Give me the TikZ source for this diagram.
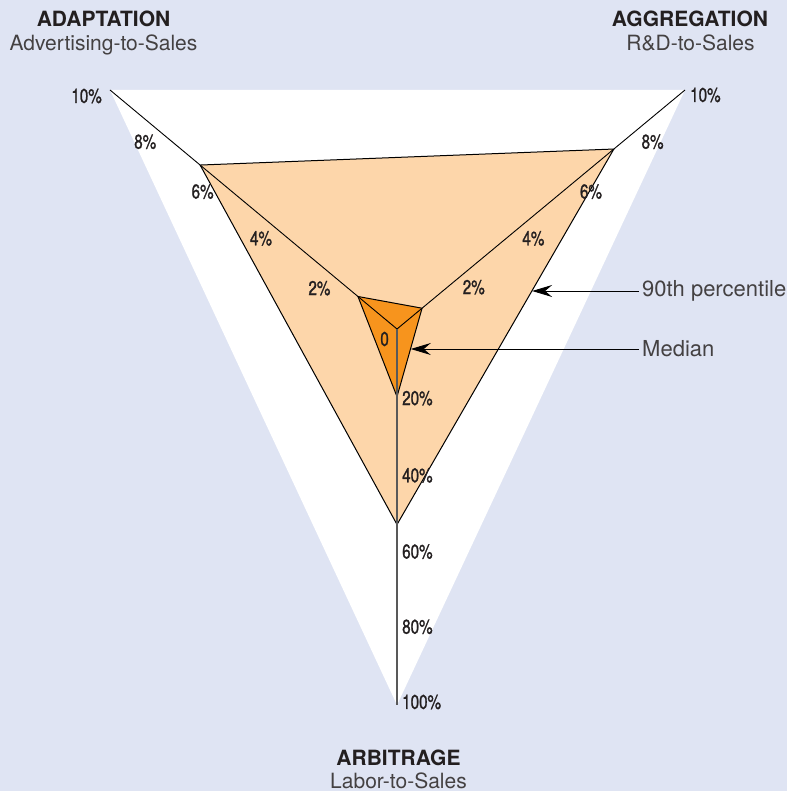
\documentclass[tikz,border=0pt]{standalone}
\usepackage{fontspec}
\setmainfont{TeX Gyre Heros}
\newfontfamily\narrowfont[FakeStretch=0.76, FakeBold=1.2]{TeX Gyre Heros}
\usetikzlibrary{arrows.meta}
\usetikzlibrary{calc}

\definecolor{bgblue}{HTML}{DFE4F3}
\definecolor{paleorange}{HTML}{FDD6AA}
\definecolor{deeporange}{HTML}{F7941D}
\definecolor{inkgray}{HTML}{231F20}

\begin{document}
\begin{tikzpicture}[
	x=1pt, y=-1pt,
  > = {Stealth[length=20pt, width=12pt, inset=7pt]},
  tick/.style = {font=\narrowfont\fontsize{20}{20}\selectfont, text=inkgray, inner sep=0pt},
  title/.style = {font=\bfseries\fontsize{21}{21}\selectfont, text=inkgray, anchor=base},
  subtitle/.style = {font=\fontsize{21}{21}\selectfont, text=inkgray!85, anchor=base},
  note/.style = {font=\fontsize{22}{22}\selectfont, text=inkgray!85, anchor=west, inner sep=3pt}
  ]
	\useasboundingbox (0,0) rectangle (787,791);
	\fill[bgblue] (0,0) rectangle (787,791);

	\coordinate (@O) at (397,329);
	\coordinate (@A) at (110,90);
	\coordinate (@G) at (685,90);
	\coordinate (@R) at (397,705);
	\coordinate (@a9) at ($(@O)!0.686!(@A)$);
	\coordinate (@g9) at ($(@O)!0.753!(@G)$);
	\coordinate (@r9) at ($(@O)!0.52!(@R)$);
	\coordinate (@a5) at ($(@O)!0.136!(@A)$);
	\coordinate (@g5) at ($(@O)!0.087!(@G)$);
	\coordinate (@r5) at ($(@O)!0.18!(@R)$);
	\coordinate (@t90) at ($(@g9)!0.377!(@r9)$);
	\coordinate (@t50) at ($(@g5)!0.449!(@r5)$);

	\fill[white] (@A) -- (@G) -- (@R) -- cycle;
	\filldraw[fill=paleorange, draw=black, line width=1pt] (@a9) -- (@g9) -- (@r9) -- cycle;
	\filldraw[fill=deeporange, draw=black, line width=1pt] (@a5) -- (@g5) -- (@r5) -- cycle;

	\draw[line width=0.9pt] (@A) -- (@O) -- (@G);
	\draw[line width=1.2pt, black!65] (@O) -- (@R);

	% Adaptation axis
	\node[tick, anchor=east] (a10) at ($(@A)+(-8,6)$) {10\%};
	\node[tick, anchor=east] (a8)  at ($(@O)!0.8!(@A)+(-11,4)$) {8\%};
	\node[tick, anchor=east] (a6)  at ($(@O)!0.6!(@A)+(-11,6)$) {6\%};
	\node[tick, anchor=east] (a4)  at ($(@O)!0.4!(@A)+(-10,5)$) {4\%};
	\node[tick, anchor=east] (a2)  at ($(@O)!0.2!(@A)+(-9,7)$) {2\%};
	\node[tick, anchor=east] (a0)  at ($(@O)+(-8,10)$) {0};

	% Aggregation axis
	\node[tick, anchor=west] (g10) at ($(@G)+(5,5)$) {10\%};
	\node[tick, anchor=west] (g8)  at ($(@O)!0.8!(@G)+(14,4)$) {8\%};
	\node[tick, anchor=west] (g6)  at ($(@O)!0.6!(@G)+(10,6)$) {6\%};
	\node[tick, anchor=west] (g4)  at ($(@O)!0.4!(@G)+(10,5)$) {4\%};
	\node[tick, anchor=west] (g2)  at ($(@O)!0.2!(@G)+(8,6)$) {2\%};

	% Arbitrage axis
	\node[tick, anchor=west] (r20)  at ($(@O)!0.2!(@R)+(5,-6)$) {20\%};
	\node[tick, anchor=west] (r40)  at ($(@O)!0.4!(@R)+(5,-4)$) {40\%};
	\node[tick, anchor=west] (r60)  at ($(@O)!0.6!(@R)+(5,-3)$) {60\%};
	\node[tick, anchor=west] (r80)  at ($(@O)!0.8!(@R)+(5,-3)$) {80\%};
	\node[tick, anchor=west] (r100) at ($(@R)+(5,-3)$) {100\%};

	\node[title]    (adapt)    at (103.5,26.7) {ADAPTATION};
	\node[subtitle] (adaptsub) at (103.5,50.7) {Advertising-to-Sales};
	\node[title]    (aggr)     at (690,26.7) {AGGREGATION};
	\node[subtitle] (aggrsub)  at (690.5,50.7) {R\&D-to-Sales};
	\node[title]    (arbi)     at (398.5,765) {ARBITRAGE};
	\node[subtitle] (arbisub)  at (398.5,788) {Labor-to-Sales};

	\node[note] (p90)    at (639,291) {90th percentile};
	\node[note] (median) at (639,349) {Median};
	\draw[->, line width=0.9pt] (p90.west) -- (p90.west -| @t90);
	\draw[->, line width=0.9pt] (median.west) -- (median.west -| @t50);
\end{tikzpicture}
\end{document}
